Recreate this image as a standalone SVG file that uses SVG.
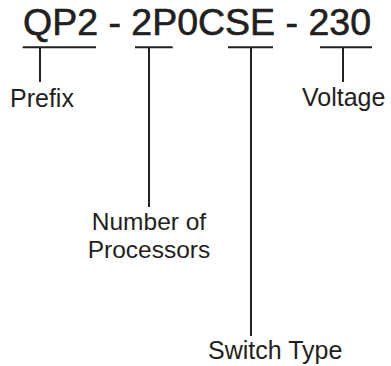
<svg xmlns="http://www.w3.org/2000/svg" width="391" height="366" viewBox="0 0 391 366">
<style>
.title{font-family:"Liberation Sans",Arial,sans-serif;font-size:36px;fill:#231f20;stroke:#231f20;stroke-width:0.6}
.lbl{font-family:"Liberation Sans",Arial,sans-serif;font-size:25px;fill:#231f20}
.lbl2{font-family:"Liberation Sans",Arial,sans-serif;font-size:24.5px;fill:#231f20}
.ln{stroke:#231f20;stroke-width:2;fill:none}
</style>
<rect width="391" height="366" fill="#fff"/>
<g id="title"><text class="title" x="23" y="35" textLength="348" lengthAdjust="spacingAndGlyphs">QP2 - 2P0CSE - 230</text></g>
<g id="connectors">
<path class="ln" d="M22.7 47.3H96M40 47.3V82"/>
<path class="ln" d="M135 47.3H172.7M149 47.3V207"/>
<path class="ln" d="M228 47.3H273M251 47.3V336"/>
<path class="ln" d="M320 47.3H372M343 47.3V82"/>
</g>
<g id="prefix"><text class="lbl" x="10" y="107">Prefix</text></g>
<g id="voltage"><text class="lbl" x="302" y="106">Voltage</text></g>
<g id="processors"><text class="lbl2" x="149" y="229.5" text-anchor="middle">Number of</text><text class="lbl2" x="149" y="258" text-anchor="middle">Processors</text></g>
<g id="switch"><text class="lbl" x="208" y="359">Switch Type</text></g>
</svg>
